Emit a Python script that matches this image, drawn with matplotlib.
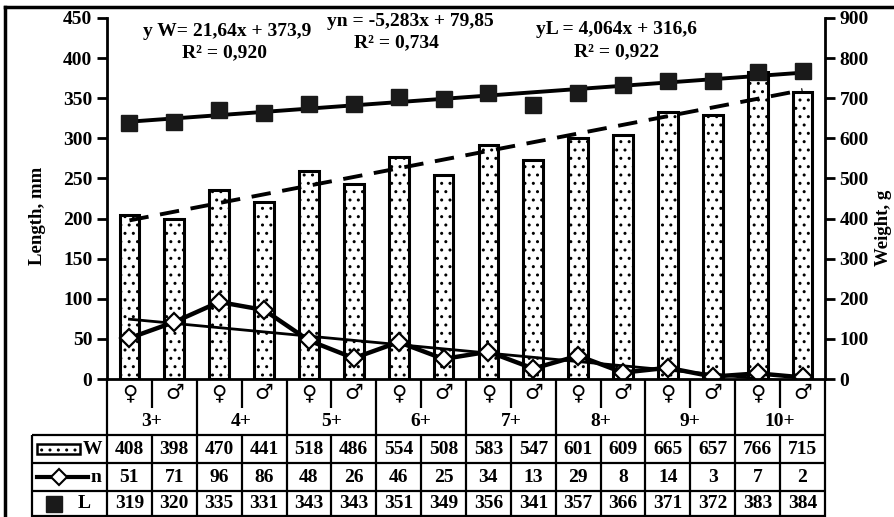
import numpy as np
import matplotlib
matplotlib.use("Agg")
import matplotlib.pyplot as plt
from matplotlib.lines import Line2D
from matplotlib.patches import Rectangle

plt.rcParams["font.family"] = ["Liberation Serif", "DejaVu Sans"]
plt.rcParams["font.weight"] = "bold"
plt.rcParams["hatch.linewidth"] = 1.0

ages = ["3+", "4+", "5+", "6+", "7+", "8+", "9+", "10+"]
sexes = ["\u2640", "\u2642"]
weight = [408, 398, 470, 441, 518, 486, 554, 508, 583, 547, 601, 609, 665, 657, 766, 715]
number = [51, 71, 96, 86, 48, 26, 46, 25, 34, 13, 29, 8, 14, 3, 7, 2]
length = [319, 320, 335, 331, 343, 343, 351, 349, 356, 341, 357, 366, 371, 372, 383, 384]

eq_w = ["y W= 21,64x + 373,9", "R\u00b2 = 0,920"]
eq_n = ["yn = -5,283x + 79,85", "R\u00b2 = 0,734"]
eq_l = ["yL = 4,064x + 316,6", "R\u00b2 = 0,922"]

W, H = 895, 517
fig = plt.figure(figsize=(W / 100, H / 100), dpi=100)


def fx(px):
    return px / W


def fy(py):
    return 1 - py / H


x0, x1, y_top, y_zero = 107, 825, 18, 379
ax = fig.add_axes([fx(x0), fy(y_zero), fx(x1) - fx(x0), fy(y_top) - fy(y_zero)])
ax2 = ax.twinx()
ax.set_zorder(ax2.get_zorder() + 1)
ax.patch.set_visible(False)

x = np.arange(1, len(weight) + 1)

# weight bars on the right axis
ax2.bar(x, weight, width=0.44, color="white", edgecolor="black",
        linewidth=2.2, hatch="..")
ax2.set_ylim(0, 900)
ax2.set_yticks(np.arange(0, 901, 100))

# trend lines
xt = np.array([1, 16])
pw = np.polyfit(x, weight, 1)
ax2.plot(xt, np.polyval(pw, xt), color="black", lw=2.8, ls=(0, (5, 3)))
pl = np.polyfit(x, length, 1)
ax.plot(xt, np.polyval(pl, xt), color="black", lw=2.8)
pn = np.polyfit(x, number, 1)
ax.plot(xt, np.polyval(pn, xt), color="black", lw=2.0)

ax.plot(x, number, color="black", lw=3.2, marker="D", markersize=9,
        markerfacecolor="white", markeredgecolor="black", markeredgewidth=1.6)
ax.plot(x, length, ls="none", marker="s", markersize=12,
        markerfacecolor="#1a1a1a", markeredgecolor="#1a1a1a")

ax.set_xlim(0.5, 16.5)
ax.set_ylim(0, 450)
ax.set_yticks(np.arange(0, 451, 50))
ax.set_xticks([])
for a in (ax, ax2):
    a.spines["top"].set_visible(False)
    for s in a.spines.values():
        s.set_linewidth(2.0)
    a.tick_params(axis="y", labelsize=14, width=2, length=7, direction="out")
ax.spines["right"].set_visible(False)
ax2.spines["left"].set_visible(False)
ax2.spines["bottom"].set_visible(False)

fig.text(fx(38), fy(216), "Length, mm", rotation=90, ha="center", va="center",
         fontsize=13.5)
fig.text(fx(884), fy(228), "Weight, g", rotation=90, ha="center", va="center",
         fontsize=13.5)

eqs = dict(ha="center", va="center", fontsize=14)
fig.text(fx(227), fy(32), eq_w[0], **eqs)
fig.text(fx(225), fy(53), eq_w[1], **eqs)
fig.text(fx(410), fy(22), eq_n[0], **eqs)
fig.text(fx(396), fy(43), eq_n[1], **eqs)
fig.text(fx(617), fy(30), eq_l[0], **eqs)
fig.text(fx(617), fy(52), eq_l[1], **eqs)

# data table below the plot
colw = (x1 - x0) / 16
tl = 0.5 - (x0 - 32) / colw
tab = fig.add_axes([fx(32), 0, fx(x1) - fx(32), fy(y_zero)])
tab.set_xlim(tl, 16.5)
tab.set_ylim(H, y_zero)
tab.axis("off")


def px(p):
    return tl + (p - 32) / colw


lk = dict(color="black", lw=1.6, clip_on=False)
bounds = np.arange(0.5, 17, 2)
tab.vlines(bounds, y_zero, H, **lk)
tab.vlines(bounds[:-1] + 1, y_zero, 408, **lk)
tab.vlines(bounds[:-1] + 1, 435, H, **lk)
tab.vlines([tl], 435, H, **lk)
tab.hlines([435, 463, 491, H - 1], tl, 16.5, **lk)

cell = dict(ha="center", va="center", fontsize=14)
for i, xi in enumerate(x):
    tab.text(xi, 393, sexes[i % 2], ha="center", va="center", fontsize=15,
             family="DejaVu Sans", fontweight="normal")
    tab.text(xi, 449, str(weight[i]), **cell)
    tab.text(xi, 477, str(number[i]), **cell)
    tab.text(xi, 504, str(length[i]), **cell)
for g, age in enumerate(ages):
    tab.text(2 * g + 1.5, 422, age, **cell)

tab.add_patch(Rectangle((px(37), 444), px(80) - px(37), 10, facecolor="white",
                        edgecolor="black", lw=1.8, hatch="..", clip_on=False))
tab.text(px(92), 449, "W", **cell)
tab.plot([px(37), px(88)], [477, 477], color="black", lw=3, clip_on=False)
tab.plot([px(59)], [477], marker="D", markersize=8, markerfacecolor="white",
         markeredgecolor="black", markeredgewidth=1.5, clip_on=False)
tab.text(px(96), 477, "n", **cell)
tab.plot([px(54)], [504], marker="s", markersize=11, color="#1a1a1a",
         clip_on=False)
tab.text(px(84), 504, "L", **cell)

# outer frame
fig.add_artist(Line2D([fx(5), fx(5)], [0, fy(7)], color="black", lw=2.5))
fig.add_artist(Line2D([fx(5), 1], [fy(7), fy(7)], color="black", lw=2.5))

fig.savefig("out.png", dpi=100)
